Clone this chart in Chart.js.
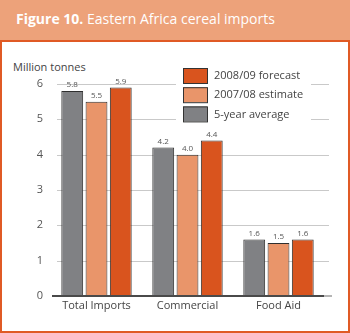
<!DOCTYPE html>
<html>
<head>
<meta charset="utf-8">
<script src="https://cdn.jsdelivr.net/npm/chart.js@4"></script>
<style>
  html, body { margin: 0; padding: 0; background: #ffffff; }
  #wrap { position: relative; width: 350px; height: 333px; overflow: hidden; font-family: "Open Sans", sans-serif; }
  #head { position: absolute; left: 0; top: 0; width: 350px; height: 40px; background: #eda27a; }
  #head span { position: absolute; left: 16px; top: 9px; color: #ffffff; font-size: 14px; white-space: nowrap; }
  #box { position: absolute; left: 0; top: 40px; width: 346px; height: 289px; border: 2px solid #e05a25; background: #ffffff; }
  #unit { position: absolute; left: 13px; top: 59px; font-size: 11px; color: #444; }
  canvas { position: absolute; left: 0; top: 0; }
</style>
</head>
<body>
<div id="wrap">
  <div id="head"><span><b>Figure 10.</b> Eastern Africa cereal imports</span></div>
  <div id="box"></div>
  <div id="unit">Million tonnes</div>
  <canvas id="c" width="350" height="333"></canvas>
</div>
<script>
const categories = ["Total Imports", "Commercial", "Food Aid"];
const seriesNames = ["5-year average", "2007/08 estimate", "2008/09 forecast"];
const fiveYearAverage = [5.8, 4.2, 1.6];
const estimate0708 = [5.5, 4.0, 1.5];
const forecast0809 = [5.9, 4.4, 1.6];
const yTicks = [0, 1, 2, 3, 4, 5, 6];

const colors = ["#808184", "#e9956a", "#d9541e"];
const FONT = '"Open Sans", sans-serif';

// light grid lines, slightly offset to the right of the plot area
const gridPlugin = {
  id: "grid",
  beforeDatasetsDraw(chart) {
    const { ctx, chartArea, scales } = chart;
    ctx.save();
    ctx.strokeStyle = "#c9c9c9";
    ctx.lineWidth = 1;
    yTicks.forEach(v => {
      if (v === 0) return;
      const y = Math.round(scales.y.getPixelForValue(v)) + 0.5;
      ctx.beginPath();
      ctx.moveTo(chartArea.left + 6, y);
      ctx.lineTo(chartArea.right + 5, y);
      ctx.stroke();
    });
    ctx.restore();
  },
  afterDatasetsDraw(chart) {
    const { ctx, chartArea, scales } = chart;
    const y = scales.y.getPixelForValue(0);
    ctx.save();
    ctx.fillStyle = "#b5b5b5";
    ctx.fillRect(chartArea.right - 1, y - 1, 9, 2);
    ctx.fillStyle = "#4a4a4a";
    ctx.fillRect(chartArea.left + 1, y - 1, chartArea.right - chartArea.left - 1, 2);
    // value labels above each bar
    ctx.font = "8px " + FONT;
    ctx.fillStyle = "#555";
    ctx.textAlign = "center";
    ctx.textBaseline = "bottom";
    chart.data.datasets.forEach((ds, i) => {
      chart.getDatasetMeta(i).data.forEach((bar, j) => {
        ctx.fillText(ds.data[j].toFixed(1), bar.x, bar.y - 2);
      });
    });
    ctx.restore();
  },
  afterDraw(chart) {
    // legend box, listed in reverse series order
    const { ctx } = chart;
    ctx.save();
    ctx.fillStyle = "#ffffff";
    ctx.fillRect(176, 62, 135, 64);
    const items = chart.data.datasets.slice().reverse();
    items.forEach((ds, k) => {
      const y = 68 + k * 19.2;
      ctx.fillStyle = ds.backgroundColor;
      ctx.fillRect(183, y, 24, 15);
      ctx.strokeStyle = "#333";
      ctx.lineWidth = 1;
      ctx.strokeRect(183.5, y + 0.5, 24, 15);
      ctx.fillStyle = "#444";
      ctx.font = "11px " + FONT;
      ctx.textAlign = "left";
      ctx.textBaseline = "middle";
      ctx.fillText(ds.label, 214, y + 8);
    });
    ctx.restore();
  }
};

new Chart(document.getElementById("c"), {
  type: "bar",
  data: {
    labels: categories,
    datasets: [
      { label: seriesNames[0], data: fiveYearAverage, backgroundColor: colors[0] },
      { label: seriesNames[1], data: estimate0708, backgroundColor: colors[1] },
      { label: seriesNames[2], data: forecast0809, backgroundColor: colors[2] }
    ].map(d => Object.assign(d, { borderColor: "#2f2f2f", borderWidth: 1, categoryPercentage: 0.8, barPercentage: 0.9 }))
  },
  options: {
    responsive: false,
    animation: false,
    events: [],
    layout: { padding: { left: 0, right: 26, top: 84, bottom: 0 } },
    plugins: { legend: { display: false }, tooltip: { enabled: false } },
    scales: {
      x: {
        grid: { display: false, drawTicks: false },
        border: { display: false },
        ticks: { color: "#444", font: { family: FONT, size: 11 }, padding: 3, maxRotation: 0 },
        afterFit: s => { s.height = 37; }
      },
      y: {
        min: 0, max: 6,
        grid: { display: false, drawTicks: false },
        border: { display: false },
        ticks: { stepSize: 1, color: "#555", font: { family: FONT, size: 11 }, padding: 8 },
        afterFit: s => { s.width = 51; }
      }
    }
  },
  plugins: [gridPlugin]
});
</script>
</body>
</html>
